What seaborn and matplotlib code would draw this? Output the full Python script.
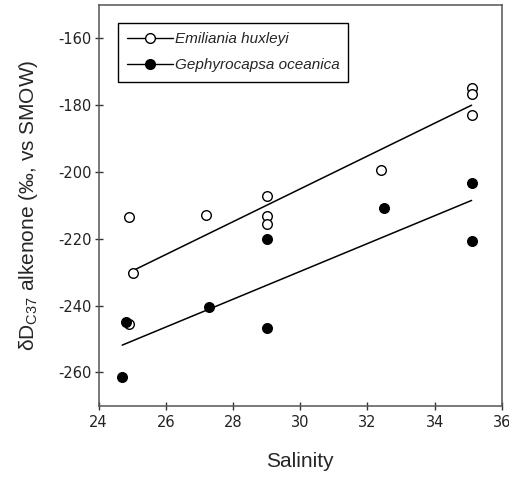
import matplotlib
matplotlib.use("Agg")
import matplotlib.pyplot as plt
from matplotlib.lines import Line2D
import seaborn as sns
import pandas as pd

# Data
ehux_salinity = [24.91, 25.01, 24.90, 27.20, 29.00, 29.00, 29.00, 32.40, 35.10, 35.10, 35.10]
ehux_dD = [-213.5, -230.1, -245.5, -212.8, -207.1, -213.2, -215.6, -199.5, -174.9, -176.6, -182.8]
goce_salinity = [24.70, 24.80, 27.29, 29.00, 29.00, 32.49, 35.10, 35.10]
goce_dD = [-261.4, -244.9, -240.4, -220.2, -246.8, -210.8, -203.2, -220.8]
species = ["Emiliania huxleyi", "Gephyrocapsa oceanica"]
x_ticks = [24, 26, 28, 30, 32, 34, 36]
y_ticks = [-260, -240, -220, -200, -180, -160]

df_e = pd.DataFrame({"Salinity": ehux_salinity, "dD": ehux_dD})
df_g = pd.DataFrame({"Salinity": goce_salinity, "dD": goce_dD})

sns.set_style("ticks")
plt.rcParams["font.family"] = ["Liberation Sans", "DejaVu Sans"]
plt.rcParams["mathtext.default"] = "regular"
plt.rcParams["axes.unicode_minus"] = False

fig = plt.figure(figsize=(5.1, 4.78), dpi=100)
ax = fig.add_axes([0.1935, 0.151, 0.7905, 0.8385])

# regression lines
sns.regplot(data=df_e, x="Salinity", y="dD", scatter=False, ci=None, truncate=True,
            line_kws=dict(color="black", lw=1.1), ax=ax)
sns.regplot(data=df_g, x="Salinity", y="dD", scatter=False, ci=None, truncate=True,
            line_kws=dict(color="black", lw=1.1), ax=ax)

# points
sns.scatterplot(data=df_e, x="Salinity", y="dD", marker="o", s=48,
                facecolor="white", edgecolor="black", linewidth=1.0, ax=ax, zorder=3)
sns.scatterplot(data=df_g, x="Salinity", y="dD", marker="o", s=48,
                facecolor="black", edgecolor="black", linewidth=1.0, ax=ax, zorder=4)

ax.set_xlim(24, 36)
ax.set_ylim(-270, -150)
ax.set_xticks(x_ticks)
ax.set_yticks(y_ticks)
ax.tick_params(axis="both", direction="inout", length=6, width=1, labelsize=10.5,
               colors="#333333", labelcolor="#222222")
ax.tick_params(axis="y", pad=2)
for lab in ax.get_xticklabels() + ax.get_yticklabels():
    lab.set_fontfamily("DejaVu Sans")
for sp in ax.spines.values():
    sp.set_visible(True)
    sp.set_color("#555555")
    sp.set_linewidth(1.1)

ax.set_xlabel("Salinity", fontsize=15, labelpad=16)
ax.set_ylabel("δD$_{C37}$ alkenone (‰, vs SMOW)", fontsize=15, labelpad=13)

handles = [
    Line2D([], [], color="black", lw=1, marker="o", markersize=7,
           markerfacecolor="white", markeredgecolor="black"),
    Line2D([], [], color="black", lw=1, marker="o", markersize=7,
           markerfacecolor="black", markeredgecolor="black"),
]
leg = ax.legend(handles, species, loc="upper left", bbox_to_anchor=(0.048, 0.955),
                frameon=True, fancybox=False, edgecolor="black", framealpha=1,
                prop=dict(style="italic", size=11), handlelength=3.0,
                handletextpad=0.1, borderpad=0.6, labelspacing=0.8, borderaxespad=0)
leg.get_frame().set_linewidth(1.0)

fig.savefig("out.png", dpi=100)
